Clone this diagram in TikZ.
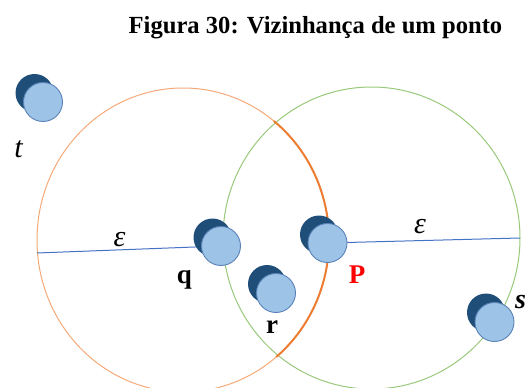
\documentclass[tikz,border=0pt]{standalone}
\usepackage{fontspec}
\setmainfont{Liberation Serif}
\definecolor{orgL}{HTML}{F5A978}
\definecolor{orgD}{HTML}{ED7D31}
\definecolor{grn}{HTML}{98C97A}
\definecolor{blu}{HTML}{4472C4}
\definecolor{ptdk}{HTML}{1F4E79}
\definecolor{ptlt}{HTML}{9DC3E6}
\definecolor{ptbd}{HTML}{5A82B8}
\tikzset{
  ptback/.style={circle, fill=ptdk, inner sep=0pt, minimum size=38pt},
  ptfront/.style={circle, fill=ptlt, draw=ptbd, line width=0.9pt, inner sep=0pt, minimum size=39pt},
  radline/.style={draw=blu, line width=1pt},
  lbl/.style={font=\fontsize{27}{27}\selectfont\bfseries, anchor=base, inner sep=0pt},
  mlbl/.style={font=\fontsize{30}{30}\selectfont\itshape, anchor=base, inner sep=0pt},
}
\begin{document}
\begin{tikzpicture}[x=1pt,y=-1pt]
\useasboundingbox (0,0) rectangle (528,388);
\clip (0,0) rectangle (528,388);
% title
\node[font=\fontsize{24.6}{25}\selectfont\bfseries, anchor=base, inner sep=0pt] (title) at (315.5,33) {Figura 30: Vizinhança de um ponto};
% neighbourhoods
\draw[orgL, line width=1pt] (183,240) ellipse [x radius=146pt, y radius=152pt];
\draw[grn, line width=1pt] (371.5,238) ellipse [x radius=148.5pt, y radius=151pt];
\draw[orgD, line width=2pt] plot[domain=-51.5:50.3, samples=80] ({183+146*cos(\x)},{240+152*sin(\x)});
% centres
\coordinate (qc) at (221,246);
\coordinate (pc) at (327.5,243);
\coordinate (eL) at (37,253);
\coordinate (eR) at (520,238);
\draw[radline] (eL) -- (qc);
\draw[radline] (pc) -- (eR);
% points
\node[ptback] (tb) at (34.5,93) {};
\node[ptfront] (t) at (43,102) {};
\node[ptback] (qb) at (212.5,237.5) {};
\node[ptfront] (q) at (qc) {};
\node[ptback] (pb) at (319,234.5) {};
\node[ptfront] (p) at (pc) {};
\node[ptback] (rb) at (267,284) {};
\node[ptfront] (r) at (276,293) {};
\node[ptback] (sb) at (486,312.5) {};
\node[ptfront] (s) at (494.5,322) {};
% labels
\node[mlbl] (tl) at (18.5,157) {t};
\node[lbl] (ql) at (184.5,283) {q};
\node[lbl] (rl) at (272,333) {r};
\node[lbl, text=red] (pl) at (357,283) {P};
\node[font=\fontsize{28}{28}\selectfont\bfseries\itshape, anchor=base west, inner sep=0pt] (sl) at (515,308) {s};
\node[mlbl] (e1) at (119.5,246) {ε};
\node[mlbl] (e2) at (420,233) {ε};
\end{tikzpicture}
\end{document}
